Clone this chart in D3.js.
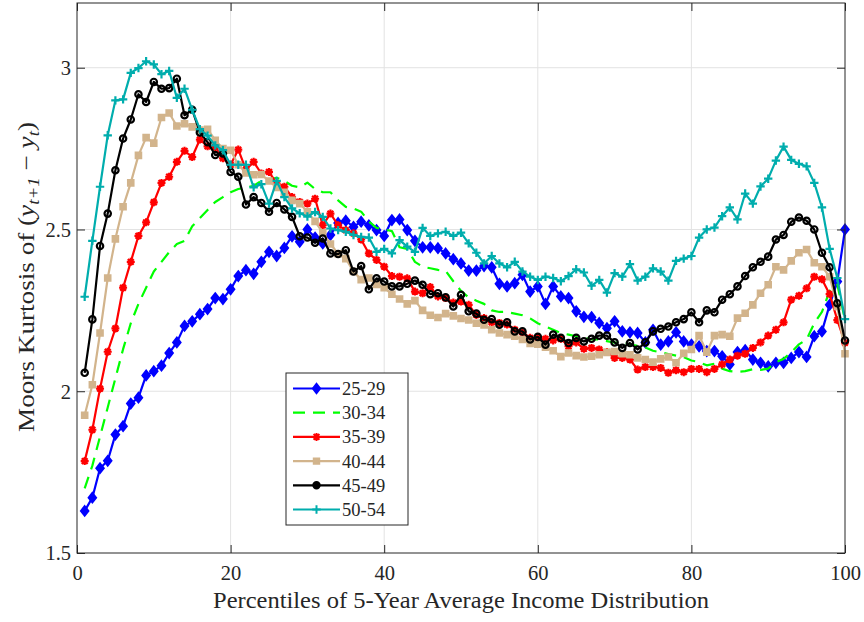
<!DOCTYPE html>
<html>
<head>
<meta charset="utf-8">
<script src="https://cdn.jsdelivr.net/npm/d3@7"></script>
<style>
html, body { margin: 0; padding: 0; background: #fff; }
svg { display: block; }
svg text { font-family: "Liberation Serif", "Times New Roman", Times, "DejaVu Serif", serif; }
</style>
</head>
<body>
<svg id="chart" width="864" height="622"></svg>
<script>
// ---------------- data ----------------
const percentiles = [1,2,3,4,5,6,7,8,9,10,11,12,13,14,15,16,17,18,19,20,21,22,23,24,25,26,27,28,29,30,31,32,33,34,35,36,37,38,39,40,41,42,43,44,45,46,47,48,49,50,51,52,53,54,55,56,57,58,59,60,61,62,63,64,65,66,67,68,69,70,71,72,73,74,75,76,77,78,79,80,81,82,83,84,85,86,87,88,89,90,91,92,93,94,95,96,97,98,99,100];

const seriesLabels = ["25-29", "30-34", "35-39", "40-44", "45-49", "50-54"];

const age2529 = [1.630,1.671,1.762,1.785,1.866,1.892,1.962,1.980,2.049,2.062,
 2.079,2.118,2.151,2.202,2.216,2.238,2.254,2.288,2.285,2.315,
 2.356,2.374,2.363,2.400,2.431,2.418,2.443,2.479,2.462,2.500,
 2.475,2.457,2.483,2.520,2.527,2.508,2.524,2.513,2.498,2.480,
 2.529,2.531,2.498,2.465,2.445,2.445,2.442,2.426,2.408,2.395,
 2.373,2.373,2.387,2.383,2.332,2.324,2.334,2.360,2.308,2.324,
 2.270,2.324,2.293,2.288,2.247,2.230,2.229,2.211,2.195,2.216,
 2.185,2.182,2.180,2.151,2.190,2.144,2.154,2.182,2.154,2.144,
 2.139,2.124,2.124,2.108,2.083,2.121,2.127,2.098,2.088,2.077,
 2.088,2.088,2.103,2.121,2.106,2.170,2.185,2.267,2.339,2.500];

const age3034 = [1.700,1.770,1.860,1.950,2.040,2.130,2.210,2.270,2.320,2.370,
 2.400,2.430,2.455,2.465,2.510,2.535,2.560,2.585,2.600,2.615,
 2.625,2.630,2.635,2.650,2.655,2.660,2.650,2.635,2.630,2.645,
 2.625,2.615,2.615,2.590,2.570,2.565,2.555,2.525,2.505,2.500,
 2.495,2.445,2.440,2.400,2.385,2.380,2.375,2.372,2.340,2.310,
 2.290,2.280,2.270,2.250,2.245,2.245,2.240,2.235,2.225,2.210,
 2.200,2.190,2.180,2.175,2.170,2.165,2.160,2.160,2.155,2.150,
 2.150,2.145,2.140,2.135,2.125,2.120,2.115,2.110,2.105,2.095,
 2.090,2.080,2.085,2.070,2.062,2.060,2.062,2.068,2.066,2.070,
 2.090,2.100,2.120,2.145,2.160,2.210,2.245,2.310,2.330,2.220];

const age3539 = [1.784,1.881,2.008,2.122,2.194,2.320,2.400,2.480,2.522,2.584,
 2.644,2.663,2.709,2.743,2.724,2.778,2.757,2.755,2.720,2.700,
 2.747,2.685,2.709,2.673,2.678,2.642,2.632,2.600,2.585,2.580,
 2.595,2.513,2.549,2.513,2.498,2.488,2.469,2.426,2.406,2.385,
 2.356,2.354,2.349,2.308,2.303,2.322,2.293,2.288,2.274,2.277,
 2.267,2.236,2.226,2.213,2.211,2.206,2.190,2.182,2.165,2.165,
 2.162,2.157,2.162,2.139,2.151,2.131,2.134,2.129,2.121,2.103,
 2.103,2.098,2.067,2.075,2.075,2.072,2.057,2.065,2.059,2.069,
 2.069,2.059,2.069,2.083,2.098,2.110,2.116,2.134,2.151,2.172,
 2.190,2.213,2.283,2.295,2.318,2.354,2.346,2.300,2.220,2.150];

const age4044 = [1.926,2.020,2.180,2.350,2.471,2.570,2.644,2.729,2.784,2.767,
 2.846,2.860,2.820,2.827,2.817,2.807,2.810,2.776,2.750,2.745,
 2.700,2.675,2.669,2.670,2.650,2.630,2.615,2.590,2.580,2.555,
 2.525,2.490,2.455,2.425,2.410,2.370,2.345,2.350,2.330,2.320,
 2.300,2.285,2.270,2.280,2.250,2.235,2.228,2.240,2.233,2.225,
 2.220,2.210,2.205,2.190,2.180,2.175,2.170,2.160,2.148,2.145,
 2.136,2.125,2.107,2.118,2.110,2.106,2.108,2.113,2.120,2.123,
 2.116,2.113,2.103,2.098,2.090,2.100,2.106,2.088,2.117,2.129,
 2.172,2.121,2.172,2.175,2.170,2.226,2.241,2.267,2.303,2.329,
 2.385,2.375,2.403,2.428,2.438,2.397,2.385,2.354,2.262,2.116];

const age4549 = [2.057,2.222,2.449,2.549,2.683,2.781,2.840,2.918,2.894,2.956,
 2.935,2.937,2.966,2.853,2.870,2.800,2.770,2.730,2.735,2.678,
 2.663,2.577,2.600,2.582,2.555,2.582,2.562,2.539,2.479,2.475,
 2.459,2.472,2.426,2.424,2.436,2.370,2.387,2.315,2.349,2.339,
 2.324,2.324,2.332,2.342,2.329,2.300,2.303,2.290,2.262,2.298,
 2.247,2.240,2.221,2.223,2.206,2.213,2.185,2.185,2.160,2.168,
 2.144,2.175,2.165,2.149,2.165,2.154,2.162,2.172,2.172,2.151,
 2.134,2.149,2.129,2.151,2.185,2.193,2.200,2.213,2.223,2.244,
 2.213,2.250,2.244,2.283,2.300,2.324,2.356,2.383,2.400,2.416,
 2.469,2.483,2.524,2.537,2.527,2.500,2.428,2.383,2.272,2.157];

const age5054 = [2.292,2.465,2.632,2.791,2.899,2.902,2.984,2.999,3.020,3.010,
 2.980,2.990,2.907,2.935,2.870,2.810,2.790,2.760,2.745,2.700,
 2.700,2.700,2.630,2.640,2.580,2.650,2.600,2.565,2.550,2.540,
 2.554,2.539,2.503,2.498,2.493,2.483,2.477,2.475,2.431,2.440,
 2.426,2.467,2.447,2.431,2.505,2.480,2.488,2.493,2.480,2.490,
 2.457,2.428,2.395,2.418,2.395,2.383,2.400,2.370,2.354,2.344,
 2.354,2.350,2.340,2.356,2.377,2.367,2.326,2.344,2.305,2.365,
 2.354,2.393,2.342,2.354,2.380,2.370,2.342,2.403,2.410,2.418,
 2.475,2.500,2.506,2.541,2.568,2.531,2.611,2.580,2.633,2.657,
 2.713,2.756,2.715,2.703,2.695,2.644,2.568,2.440,2.350,2.223];

const xTicks = [0, 20, 40, 60, 80, 100];
const yTicks = [1.5, 2, 2.5, 3];
const xLabel = "Percentiles of 5-Year Average Income Distribution";

// ---------------- layout ----------------
const L = 77, R = 845, T = 3, B = 553;
const axisColor = "#262626";
const serif = "'Liberation Serif', 'Times New Roman', Times, 'DejaVu Serif', serif";
const svg = d3.select("#chart");

const x = d3.scaleLinear().domain([0, 100]).range([L, R]);
const y = d3.scaleLinear().domain([1.5, 3.2]).range([B, T]);

// grid
const grid = svg.append("g");
grid.selectAll("line.gx").data(xTicks.filter(t => t > 0 && t < 100)).join("line")
  .attr("x1", d => x(d)).attr("x2", d => x(d)).attr("y1", T).attr("y2", B)
  .attr("stroke", "#e3e3e3").attr("stroke-width", 1);
grid.selectAll("line.gy").data(yTicks.filter(t => t > 1.5)).join("line")
  .attr("x1", L).attr("x2", R).attr("y1", d => y(d)).attr("y2", d => y(d))
  .attr("stroke", "#e3e3e3").attr("stroke-width", 1);

// series definitions
const seriesData = [age2529, age3034, age3539, age4044, age4549, age5054];
const colors = ["#0000ff", "#00ff00", "#ff0000", "#d2b48c", "#000000", "#00adad"];
const markers = ["diamond", null, "asterisk", "square", "circle", "plus"];
const markerFill = [true, false, false, true, false, false];
const dashes = [null, "12,8", null, null, null, null];

function markerPath(type) {
  switch (type) {
    case "diamond": return "M0,-4.6L3.6,0L0,4.6L-3.6,0Z";
    case "square": return "M-2.7,-2.7H2.7V2.7H-2.7Z";
    case "circle": return "M3.2,0A3.2,3.2 0 1,1 -3.2,0A3.2,3.2 0 1,1 3.2,0Z";
    case "asterisk": return "M0,-4V4M-4,0H4M-2.9,-2.9L2.9,2.9M-2.9,2.9L2.9,-2.9";
    case "plus": return "M0,-4.2V4.2M-4.2,0H4.2";
  }
  return null;
}

const line = d3.line().x(d => x(d.p)).y(d => y(d.v));
const plot = svg.append("g");
seriesData.forEach((vals, i) => {
  const pts = percentiles.map((p, k) => ({ p: p, v: vals[k] }));
  const g = plot.append("g");
  g.append("path").datum(pts).attr("d", line)
    .attr("fill", "none").attr("stroke", colors[i]).attr("stroke-width", 2.2)
    .attr("stroke-linejoin", "round")
    .attr("stroke-dasharray", dashes[i]);
  if (markers[i]) {
    g.selectAll("path.m").data(pts).join("path").attr("class", "m")
      .attr("d", markerPath(markers[i]))
      .attr("transform", d => `translate(${x(d.p)},${y(d.v)})`)
      .attr("fill", markerFill[i] ? colors[i] : "none")
      .attr("stroke", colors[i]).attr("stroke-width", 2.2);
  }
});

// axes (ticks inward, mirrored)
function styleAxis(g) {
  g.attr("font-family", serif);
  g.select(".domain").remove();
  g.selectAll(".tick line").attr("stroke", axisColor).attr("stroke-width", 1);
  g.selectAll("text").attr("fill", axisColor).attr("font-size", 20.5)
    .style("font-family", serif);
}
const fmt = d3.format("");
const xb = svg.append("g").attr("transform", `translate(0,${B})`)
  .call(d3.axisBottom(x).tickValues(xTicks).tickFormat(fmt).tickSizeInner(-8).tickSizeOuter(0));
styleAxis(xb);
xb.selectAll("text").attr("y", 27).attr("dy", 0);

const xt = svg.append("g").attr("transform", `translate(0,${T})`)
  .call(d3.axisTop(x).tickValues(xTicks).tickFormat("").tickSizeInner(-8).tickSizeOuter(0));
styleAxis(xt);

const yl = svg.append("g").attr("transform", `translate(${L},0)`)
  .call(d3.axisLeft(y).tickValues(yTicks).tickFormat(fmt).tickSizeInner(-8).tickSizeOuter(0));
styleAxis(yl);
yl.selectAll("text").attr("x", -6).attr("dy", "0.33em");

const yr = svg.append("g").attr("transform", `translate(${R},0)`)
  .call(d3.axisRight(y).tickValues(yTicks).tickFormat("").tickSizeInner(-8).tickSizeOuter(0));
styleAxis(yr);

// box
svg.append("rect").attr("x", L).attr("y", T).attr("width", R - L).attr("height", B - T)
  .attr("fill", "none").attr("stroke", axisColor).attr("stroke-width", 1);

// x label
svg.append("text").attr("x", (L + R) / 2).attr("y", 608)
  .attr("text-anchor", "middle").attr("font-size", 23).attr("fill", axisColor)
  .attr("textLength", 496).attr("lengthAdjust", "spacingAndGlyphs")
  .style("font-family", serif)
  .text(xLabel);

// y label with math
const ylab = svg.append("text")
  .attr("transform", `translate(34,${(T + B) / 2 - 1}) rotate(-90)`)
  .attr("text-anchor", "middle").attr("font-size", 23).attr("fill", axisColor)
  .attr("textLength", 310).attr("lengthAdjust", "spacingAndGlyphs")
  .style("font-family", serif);
ylab.append("tspan").text("Moors Kurtosis of (");
ylab.append("tspan").attr("font-style", "italic").text("y");
ylab.append("tspan").attr("font-style", "italic").attr("font-size", 16).attr("dy", 5).text("t+1");
ylab.append("tspan").attr("dy", -5).text(" \u2212 ");
ylab.append("tspan").attr("font-style", "italic").text("y");
ylab.append("tspan").attr("font-style", "italic").attr("font-size", 16).attr("dy", 5).text("t");
ylab.append("tspan").attr("dy", -5).text(")");

// legend
const lg = svg.append("g");
lg.append("rect").attr("x", 286).attr("y", 373).attr("width", 122).attr("height", 152)
  .attr("fill", "#fff").attr("stroke", axisColor).attr("stroke-width", 1);
seriesLabels.forEach((lab, i) => {
  const cy = 388.5 + i * 24.2;
  lg.append("line").attr("x1", 293).attr("x2", 340).attr("y1", cy).attr("y2", cy)
    .attr("stroke", colors[i]).attr("stroke-width", 2.2)
    .attr("stroke-dasharray", dashes[i]);
  if (markers[i]) {
    lg.append("path").attr("d", markerPath(markers[i]))
      .attr("transform", `translate(316.5,${cy})`)
      .attr("fill", markerFill[i] || markers[i] === "circle" ? colors[i] : "none")
      .attr("stroke", colors[i]).attr("stroke-width", 2);
  }
  lg.append("text").attr("x", 342).attr("y", cy).attr("dy", "0.35em")
    .attr("font-size", 18.5).attr("fill", axisColor)
    .style("font-family", serif).text(lab);
});
</script>
</body>
</html>
